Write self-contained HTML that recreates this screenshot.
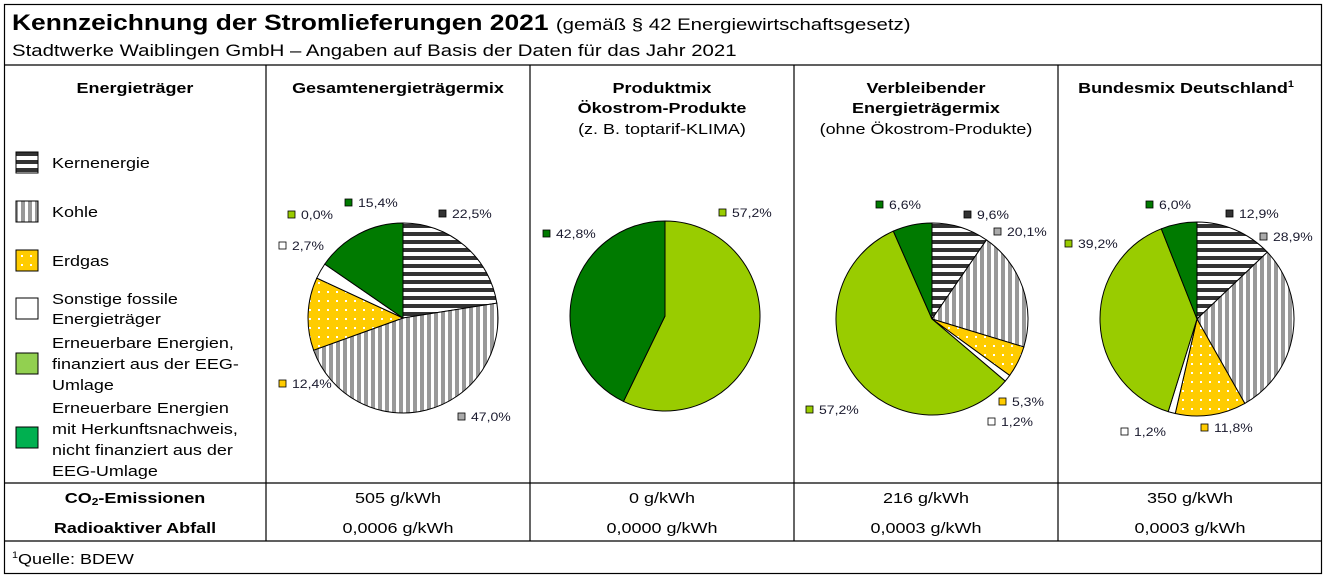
<!DOCTYPE html>
<html><head><meta charset="utf-8"><style>
body{margin:0;background:#fff}
svg{display:block;font-family:"Liberation Sans",Arial,sans-serif}
</style></head><body>
<svg id="chart" width="1326" height="578" viewBox="0 0 1326 578">
<defs>
<pattern id="pKern" width="8" height="8" patternUnits="userSpaceOnUse"><rect width="8" height="8" fill="#fff"/><rect width="8" height="4" fill="#333"/></pattern>
<pattern id="pKohle" width="7" height="7" patternUnits="userSpaceOnUse"><rect width="7" height="7" fill="#fff"/><rect width="4" height="7" fill="#999"/></pattern>
<pattern id="pGas" width="9" height="9" patternUnits="userSpaceOnUse"><rect width="9" height="9" fill="#ffcc00"/><rect x="3" y="3" width="2" height="2" fill="#fff"/></pattern>
</defs>
<g stroke="#000" stroke-width="1.2" fill="none">
<rect x="4.5" y="4.5" width="1317" height="569"/>
<line x1="4" y1="65" x2="1322" y2="65"/>
<line x1="4" y1="483" x2="1322" y2="483"/>
<line x1="4" y1="541" x2="1322" y2="541"/>
<line x1="266" y1="65" x2="266" y2="541"/>
<line x1="530" y1="65" x2="530" y2="541"/>
<line x1="794" y1="65" x2="794" y2="541"/>
<line x1="1058" y1="65" x2="1058" y2="541"/>
</g>
<text x="12" y="30" font-size="22" font-weight="bold">Kennzeichnung der Stromlieferungen 2021 <tspan font-size="17" font-weight="normal">(gemäß § 42 Energiewirtschaftsgesetz)</tspan></text>
<text x="12" y="56" font-size="17">Stadtwerke Waiblingen GmbH – Angaben auf Basis der Daten für das Jahr 2021</text>
<g font-size="15" font-weight="bold" text-anchor="middle">
<text x="135" y="93">Energieträger</text>
<text x="398" y="93">Gesamtenergieträgermix</text>
<text x="662" y="93">Produktmix</text>
<text x="662" y="113">Ökostrom-Produkte</text>
<text x="926" y="93">Verbleibender</text>
<text x="926" y="113">Energieträgermix</text>
<text x="1186" y="93">Bundesmix Deutschland<tspan font-size="9" dy="-6">1</tspan></text>
</g>
<g font-size="15" text-anchor="middle">
<text x="662" y="134">(z. B. toptarif-KLIMA)</text>
<text x="926" y="134">(ohne Ökostrom-Produkte)</text>
</g>
<g font-size="15">
<rect x="16" y="152" width="22" height="21" fill="url(#pKern)" stroke="#000"/>
<text x="52" y="168">Kernenergie</text>
<rect x="16" y="201" width="22" height="21" fill="url(#pKohle)" stroke="#000"/>
<text x="52" y="217">Kohle</text>
<rect x="16" y="250" width="22" height="21" fill="url(#pGas)" stroke="#000"/>
<text x="52" y="266">Erdgas</text>
<rect x="16" y="298" width="22" height="21" fill="#fff" stroke="#000"/>
<text x="52" y="304">Sonstige fossile<tspan x="52" dy="20">Energieträger</tspan></text>
<rect x="16" y="353" width="22" height="21" fill="#92d050" stroke="#000"/>
<text x="52" y="348">Erneuerbare Energien,<tspan x="52" dy="21">finanziert aus der EEG-</tspan><tspan x="52" dy="21">Umlage</tspan></text>
<rect x="16" y="427" width="22" height="21" fill="#00b050" stroke="#000"/>
<text x="52" y="413">Erneuerbare Energien<tspan x="52" dy="21">mit Herkunftsnachweis,</tspan><tspan x="52" dy="21">nicht finanziert aus der</tspan><tspan x="52" dy="21">EEG-Umlage</tspan></text>
</g>
<g font-size="15" text-anchor="middle">
<text x="135" y="503" font-weight="bold">CO<tspan font-size="10" dy="2">2</tspan><tspan dy="-2">-Emissionen</tspan></text>
<text x="135" y="533" font-weight="bold">Radioaktiver Abfall</text>
<text x="398" y="503">505 g/kWh</text>
<text x="662" y="503">0 g/kWh</text>
<text x="926" y="503">216 g/kWh</text>
<text x="1190" y="503">350 g/kWh</text>
<text x="398" y="533">0,0006 g/kWh</text>
<text x="662" y="533">0,0000 g/kWh</text>
<text x="926" y="533">0,0003 g/kWh</text>
<text x="1190" y="533">0,0003 g/kWh</text>
</g>
<text x="12" y="564" font-size="15"><tspan font-size="9" dy="-6">1</tspan><tspan dy="6">Quelle: BDEW</tspan></text>
<g id="pies"></g>
</svg>
<script>
const categories = ["Kernenergie","Kohle","Erdgas","Sonstige","EEG","Herkunftsnachweis"];
const gesamtValues = [22.5, 47.0, 12.4, 2.7, 0.0, 15.4];
const produktValues = [0, 0, 0, 0, 57.2, 42.8];
const verbleibendValues = [9.6, 20.1, 5.3, 1.2, 57.2, 6.6];
const bundesValues = [12.9, 28.9, 11.8, 1.2, 39.2, 6.0];

const fills = ["url(#pKern)","url(#pKohle)","url(#pGas)","#fff","#99cc00","#007a00"];
const chipFills = ["#333","#aaa","#ffcc00","#fff","#99cc00","#007a00"];
const pies = [
 {name:"gesamt", vals:gesamtValues, cx:403, cy:318, r:95,
  labels:[[443,214],[462,417],[283,384],[283,246],[292,215],[349,203]]},
 {name:"produkt", vals:produktValues, cx:665, cy:316, r:95,
  labels:[null,null,null,null,[723,213],[547,234]]},
 {name:"verbleibend", vals:verbleibendValues, cx:932, cy:319, r:96,
  labels:[[968,215],[998,232],[1003,402],[992,422],[810,410],[880,205]]},
 {name:"bundes", vals:bundesValues, cx:1197, cy:319, r:97,
  labels:[[1230,214],[1264,237],[1205,428],[1125,432],[1069,244],[1150,205]]}
];
const NS="http://www.w3.org/2000/svg";
const root=document.getElementById("pies");
function pt(cx,cy,r,f){const a=f*2*Math.PI-Math.PI/2;return [cx+r*Math.cos(a),cy+r*Math.sin(a)];}
pies.forEach(p=>{
  const g=document.createElementNS(NS,"g");
  
  
  root.appendChild(g);
  const total=p.vals.reduce((a,b)=>a+b,0);
  let acc=0;
  p.vals.forEach((v,i)=>{
    const f0=acc/total, f1=(acc+v)/total; acc+=v;
    if(v<=0) return;
    let el;
    if(f1-f0>=0.9999){
      el=document.createElementNS(NS,"circle");
      el.setAttribute("cx",p.cx);el.setAttribute("cy",p.cy);el.setAttribute("r",p.r);
    } else {
      const [x0,y0]=pt(p.cx,p.cy,p.r,f0),[x1,y1]=pt(p.cx,p.cy,p.r,f1);
      el=document.createElementNS(NS,"path");
      el.setAttribute("d",`M${p.cx},${p.cy}L${x0},${y0}A${p.r},${p.r} 0 ${f1-f0>0.5?1:0} 1 ${x1},${y1}Z`);
    }
    el.setAttribute("fill",fills[i]);el.setAttribute("stroke","#000");el.setAttribute("stroke-width","1");
    
    
    g.appendChild(el);
  });
  p.vals.forEach((v,i)=>{
    const L=p.labels[i]; if(!L) return;
    const sq=document.createElementNS(NS,"rect");
    sq.setAttribute("x",L[0]-4);sq.setAttribute("y",L[1]-4);sq.setAttribute("width",7);sq.setAttribute("height",7);
    sq.setAttribute("fill",chipFills[i]);sq.setAttribute("stroke","#000");sq.setAttribute("stroke-width","0.8");
    
    
    g.appendChild(sq);
    const t=document.createElementNS(NS,"text");
    t.setAttribute("x",L[0]+9);t.setAttribute("y",L[1]+4);t.setAttribute("font-size","12");t.setAttribute("fill","#1a1a2e");
    t.textContent=v.toFixed(1).replace(".",",")+"%";
    
    
    g.appendChild(t);
  });
});
// widen text horizontally to match reference glyph widths
document.querySelectorAll("#chart text").forEach(t=>{
  const x=parseFloat(t.getAttribute("x"))||0;
  const s=t.getAttribute("font-size")==="12"?1.17:1.2;
  t.setAttribute("transform",`translate(${x},0) scale(${s},1) translate(${-x},0)`);
});
</script>
</body></html>
